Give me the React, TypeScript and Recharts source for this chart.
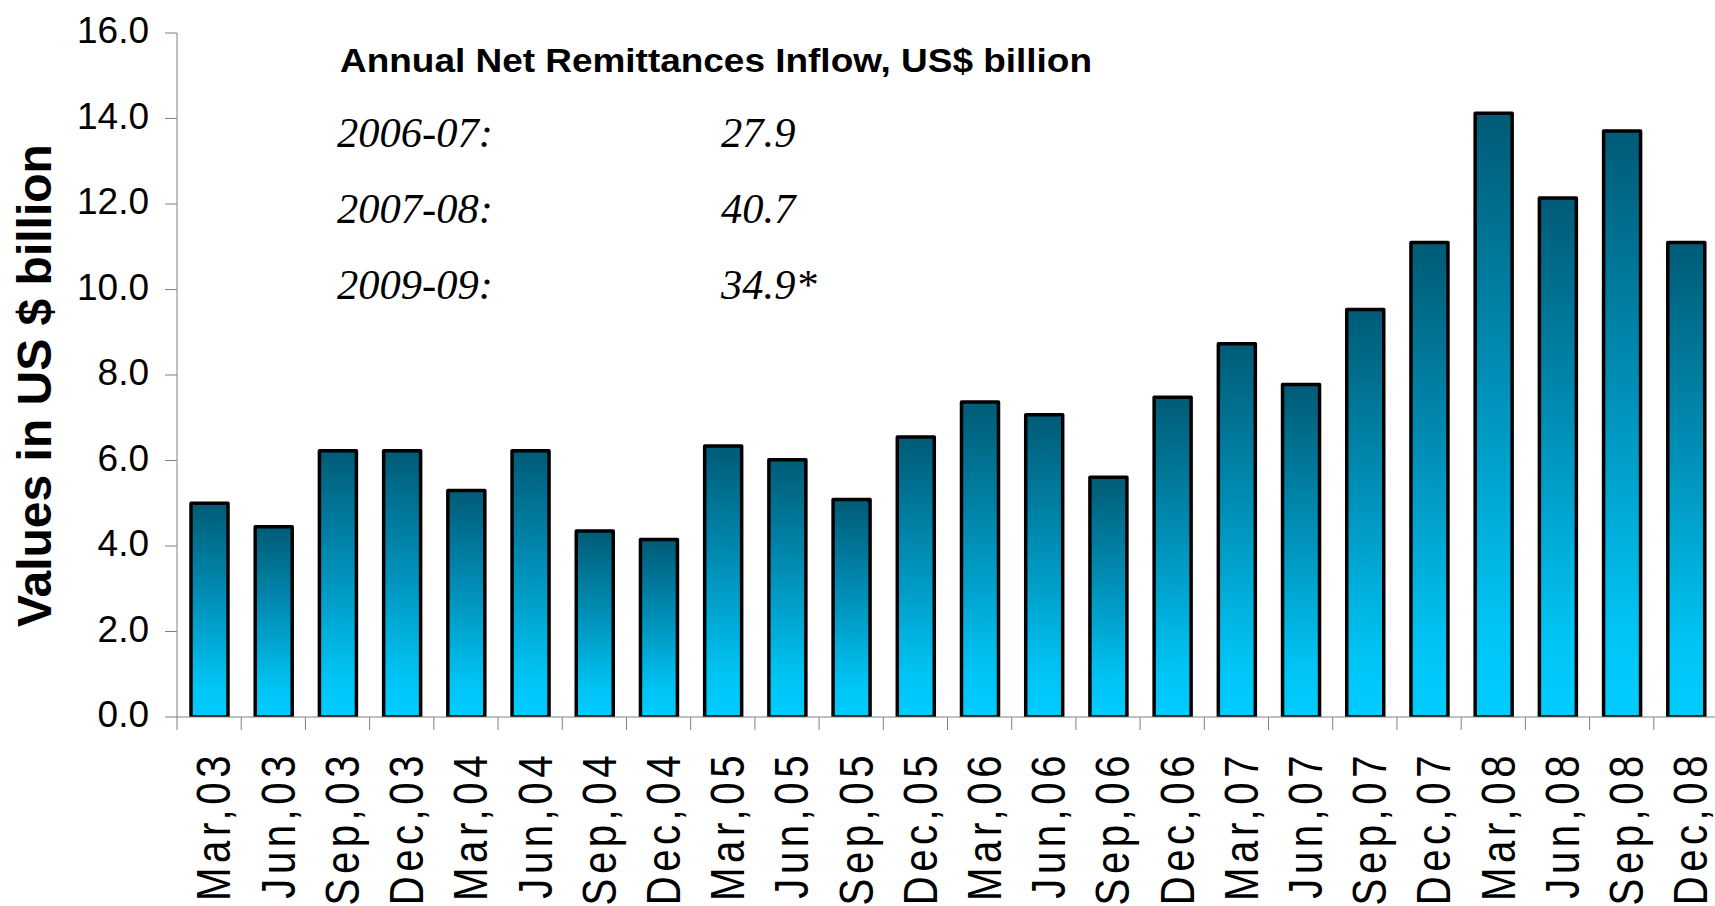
import React from 'react';
import { BarChart, Bar, XAxis, YAxis } from 'recharts';

const categories = ['Mar,03','Jun,03','Sep,03','Dec,03','Mar,04','Jun,04','Sep,04','Dec,04','Mar,05','Jun,05','Sep,05','Dec,05','Mar,06','Jun,06','Sep,06','Dec,06','Mar,07','Jun,07','Sep,07','Dec,07','Mar,08','Jun,08','Sep,08','Dec,08'];
const remittances = [5.0, 4.45, 6.23, 6.23, 5.3, 6.23, 4.35, 4.15, 6.34, 6.02, 5.09, 6.55, 7.37, 7.07, 5.61, 7.48, 8.73, 7.78, 9.53, 11.1, 14.12, 12.14, 13.71, 11.1];
const yTicks = [0, 2, 4, 6, 8, 10, 12, 14, 16];
const titleText = 'Annual Net Remittances Inflow, US$ billion';
const annualYears = ['2006-07:', '2007-08:', '2009-09:'];
const annualValues = ['27.9', '40.7', '34.9*'];
const yAxisTitle = 'Values in US $ billion';

const data = categories.map((c, i) => ({ name: c, value: remittances[i] }));

const W = 1720;
const H = 906;
const M = { top: 33, right: 2, bottom: 0, left: 0 };
const Y_W = 177;
const X_H = 189;
const BAND = (W - M.left - M.right - Y_W) / categories.length;
const SANS = '"Liberation Sans", Arial, Helvetica, sans-serif';
const SERIF = '"Liberation Serif", "Times New Roman", serif';
const AXIS_GRAY = '#808080';

const XTick = (props: any) => {
  const { x, y, payload } = props;
  const tx = x + 4;
  const ty = y + 34;
  const tf = `rotate(-90, ${tx}, ${ty}) translate(${tx}, ${ty}) scale(0.82, 1) translate(${-tx}, ${-ty})`;
  return (
    <g>
      <line x1={x - BAND / 2} x2={x - BAND / 2} y1={y} y2={y + 13} stroke={AXIS_GRAY} strokeWidth={1} />
      <text x={tx} y={ty} transform={tf} textAnchor="end" dy="0.355em" letterSpacing={5.5}
        fontSize={49} fontFamily={SANS} fill="#000">{payload.value}</text>
    </g>
  );
};

const YTick = (props: any) => {
  const { x, y, payload } = props;
  return (
    <text x={x} y={y - 3} dy="0.355em" textAnchor="end" fontSize={37} fontFamily={SANS} fill="#000">
      {Number(payload.value).toFixed(1)}
    </text>
  );
};

export default function App() {
  return (
    <div style={{ position: 'absolute', left: 0, top: 0, width: 1715, height: 906, overflow: 'hidden', background: '#fff' }}>
      <BarChart width={W} height={H} data={data} margin={M}>
        <defs>
          <linearGradient id="barGrad" x1="0" y1="0" x2="0" y2="1">
            <stop offset="0%" stopColor="#005b76" />
            <stop offset="45%" stopColor="#0090b8" />
            <stop offset="85%" stopColor="#00c4f4" />
            <stop offset="100%" stopColor="#00ccff" />
          </linearGradient>
        </defs>
        <XAxis dataKey="name" height={X_H} interval={0} tickLine={false} tickSize={0} tickMargin={0}
          axisLine={{ stroke: AXIS_GRAY, strokeWidth: 1 }} tick={<XTick />} />
        <YAxis width={Y_W} domain={[0, 16]} ticks={yTicks} interval={0} tickSize={12} tickMargin={16}
          axisLine={{ stroke: AXIS_GRAY, strokeWidth: 1 }} tickLine={{ stroke: AXIS_GRAY, strokeWidth: 1 }}
          tick={<YTick />} allowDataOverflow />
        <Bar dataKey="value" barSize={37} fill="url(#barGrad)" stroke="#000" strokeWidth={3.5}
          strokeLinejoin="round" isAnimationActive={false} />
        <text x={34} y={385.5} transform="rotate(-90, 34, 385.5)" textAnchor="middle" dy="0.355em"
          fontSize={48} fontWeight="bold" fontFamily={SANS} fill="#000">{yAxisTitle}</text>
        <text x={340} y={72} fontSize={34} fontWeight="bold" fontFamily={SANS} fill="#000"
          textLength={752} lengthAdjust="spacingAndGlyphs">{titleText}</text>
        {annualYears.map((yr, i) => (
          <text key={'y' + i} x={337} y={147 + i * 76} fontSize={42.5} fontStyle="italic" fontFamily={SERIF} fill="#000">{yr}</text>
        ))}
        {annualValues.map((v, i) => (
          <text key={'v' + i} x={721} y={147 + i * 76} fontSize={42.5} fontStyle="italic" fontFamily={SERIF} fill="#000">{v}</text>
        ))}
      </BarChart>
    </div>
  );
}
